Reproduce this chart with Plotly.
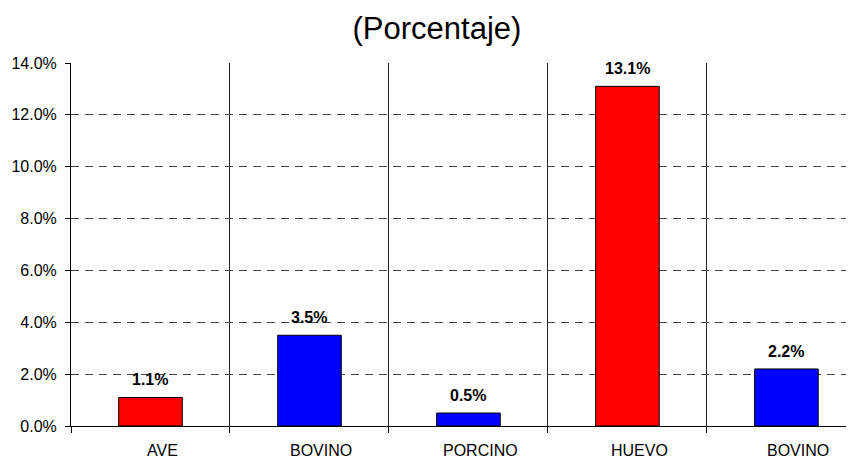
import plotly.graph_objects as go

categories = ["AVE", "BOVINO", "PORCINO", "HUEVO", "BOVINO"]
values = [1.1, 3.5, 0.5, 13.1, 2.2]
colors = ["#FF0000", "#0000FF", "#0000FF", "#FF0000", "#0000FF"]
ytick_vals = [0, 2, 4, 6, 8, 10, 12, 14]
ytick_text = ["0.0%", "2.0%", "4.0%", "6.0%", "8.0%", "10.0%", "12.0%", "14.0%"]

xpos = list(range(len(categories)))
FONT = "Liberation Sans, Arial, sans-serif"

fig = go.Figure(go.Bar(
    x=xpos, y=values,
    marker=dict(color=colors, line=dict(color="black", width=1)),
    width=0.4,
    hoverinfo="skip",
))

# value labels above bars
for x, v in zip(xpos, values):
    fig.add_annotation(
        x=x, y=v, xref="x", yref="y",
        text=f"<b>{v:.1f}%</b>", showarrow=False,
        yanchor="bottom", yshift=7,
        font=dict(family=FONT, size=16, color="black"),
    )

# category labels (slightly offset to the right, as in the reference)
for x, c in zip(xpos, categories):
    fig.add_annotation(
        x=x, y=0, xref="x", yref="paper",
        text=c, showarrow=False,
        xanchor="center", yanchor="middle", xshift=12, yshift=-24,
        font=dict(family=FONT, size=16, color="black"),
    )

fig.update_layout(
    width=846, height=450,
    margin=dict(l=63, r=0, t=55, b=32),
    paper_bgcolor="white", plot_bgcolor="white",
    showlegend=False,
    font=dict(family=FONT, size=16, color="black"),
    title=dict(text="(Porcentaje)", xref="container", x=0.507, xanchor="center",
               yref="container", y=0.956, yanchor="middle",
               font=dict(size=31, color="black")),
    xaxis=dict(
        range=[-0.5, 4.425],
        tickvals=xpos, ticktext=["" for _ in categories],
        ticks="", showgrid=False, showticklabels=False,
        showline=True, linecolor="black", linewidth=1,
        zeroline=False,
        minor=dict(tick0=0.5, dtick=1, showgrid=True, gridcolor="#222222", gridwidth=1,
                   ticks="outside", ticklen=6, tickcolor="black"),
    ),
    yaxis=dict(
        range=[0, 14],
        tickvals=ytick_vals, ticktext=ytick_text,
        ticks="outside", ticklen=5, tickcolor="black",
        showline=True, linecolor="black", linewidth=1,
        showgrid=True, gridcolor="#444444", griddash="8px,6px", gridwidth=1,
        zeroline=False,
        ticklabelstandoff=5,
        tickfont=dict(size=16),
    ),
)

fig.write_html("out.html")
